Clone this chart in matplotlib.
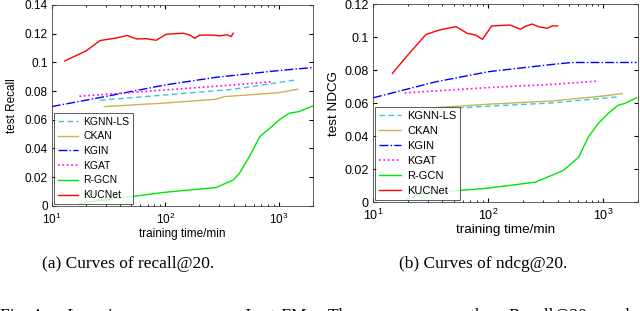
import matplotlib
matplotlib.use('Agg')
import matplotlib.pyplot as plt

# ---- data (training time in minutes) ----
# (a) Recall@20
rec_kucnet_t = [13, 20, 26.6, 37, 46, 56, 68, 83, 102, 144, 165, 182, 200, 263, 300, 350, 380, 396]
rec_kucnet_y = [0.101, 0.108, 0.1152, 0.117, 0.1187, 0.1163, 0.1165, 0.1154, 0.1196, 0.1203, 0.119, 0.1168, 0.119, 0.119, 0.1185, 0.1192, 0.118, 0.1203]
rec_kgin_t = [10, 26.6, 100, 280, 1000, 2000]
rec_kgin_y = [0.0692, 0.0755, 0.0843, 0.0896, 0.0943, 0.0964]
rec_kgat_t = [17.5, 100, 400, 890]
rec_kgat_y = [0.0764, 0.0808, 0.0843, 0.0866]
rec_kgnn_t = [26.6, 100, 400, 1420]
rec_kgnn_y = [0.0736, 0.0773, 0.0813, 0.0878]
rec_ckan_t = [29, 100, 280, 330, 1000, 1470]
rec_ckan_y = [0.0692, 0.0717, 0.0743, 0.0761, 0.0789, 0.0813]
rec_rgcn_t = [17.5, 100, 280, 396, 450, 550, 680, 830, 1010, 1230, 1500, 2000]
rec_rgcn_y = [0.0019, 0.0095, 0.0128, 0.018, 0.0227, 0.0343, 0.0483, 0.054, 0.060, 0.0645, 0.0657, 0.0697]

# (b) NDCG@20
nd_kucnet_t = [14.7, 19.4, 28.8, 37.7, 52.5, 66, 78, 89, 107, 155, 190, 210, 240, 275, 325, 360, 400]
nd_kucnet_y = [0.078, 0.088, 0.1016, 0.1043, 0.1063, 0.1022, 0.1012, 0.0986, 0.1067, 0.1073, 0.1047, 0.1065, 0.1079, 0.1062, 0.1053, 0.1068, 0.1067]
nd_kgin_t = [10, 35, 100, 357, 530, 1940]
nd_kgin_y = [0.0632, 0.0729, 0.079, 0.0834, 0.0846, 0.0846]
nd_kgat_t = [18.8, 100, 357, 880]
nd_kgat_y = [0.0662, 0.0694, 0.0713, 0.0733]
nd_ckan_t = [31.8, 100, 357, 970, 1460]
nd_ckan_y = [0.0571, 0.0593, 0.0613, 0.0642, 0.0658]
nd_kgnn_t = [31.8, 100, 357, 1350]
nd_kgnn_y = [0.0561, 0.0581, 0.0601, 0.0638]
nd_rgcn_t = [19.6, 25, 100, 256, 450, 610, 740, 900, 1100, 1340, 1520, 1940]
nd_rgcn_y = [0.0014, 0.005, 0.0085, 0.0121, 0.0192, 0.0273, 0.0395, 0.0476, 0.0537, 0.0587, 0.0597, 0.0632]

plt.rcParams['font.family'] = ['Liberation Sans', 'DejaVu Sans']

fig = plt.figure(figsize=(6.4, 3.11), dpi=100)
ax1 = fig.add_axes([0.081, 0.338, 0.408, 0.646])
ax2 = fig.add_axes([0.583, 0.350, 0.414, 0.637])

def draw(ax, data, ymax, ylabel, fs_tick, fs_lab, fs_leg, lpad):
    (kgnn, ckan, kgin, kgat, rgcn, kucnet) = data
    ax.semilogx(*kgnn, color='#3cc8d2', ls=(0, (4, 2.5)), lw=1.0, label='KGNN-LS')
    ax.semilogx(*ckan, color='#c8b450', ls='-', lw=1.0, label='CKAN')
    ax.semilogx(*kgin, color='#0000ff', ls='-.', lw=1.0, label='KGIN')
    ax.semilogx(*kgat, color='#ff00ff', ls=':', lw=1.2, label='KGAT')
    ax.semilogx(*rgcn, color='#00e600', ls='-', lw=1.0, label='R-GCN')
    ax.semilogx(*kucnet, color='#ff0000', ls='-', lw=1.0, label='KUCNet')
    ax.set_xlim(10, 2000)
    ax.set_ylim(0, ymax)
    ax.set_xlabel('training time/min', fontsize=fs_lab, labelpad=1)
    ax.set_ylabel(ylabel, fontsize=fs_lab, labelpad=lpad)
    ax.tick_params(which='both', direction='in', top=True, right=True, labelsize=fs_tick)
    ax.tick_params(axis='x', pad=4)
    ax.tick_params(axis='y', pad=3)
    ax.tick_params(which='major', length=3)
    ax.tick_params(which='minor', length=1.5)
    for s in ax.spines.values():
        s.set_linewidth(0.6)
        s.set_color('#444444')
    leg = ax.legend(loc='lower left', fontsize=fs_leg, handlelength=2.0, handletextpad=0.5,
                    labelspacing=0.45, borderpad=0.35, borderaxespad=0.2, fancybox=False)
    leg.get_frame().set_edgecolor('#333333')
    leg.get_frame().set_linewidth(0.7)

draw(ax1, [(rec_kgnn_t, rec_kgnn_y), (rec_ckan_t, rec_ckan_y), (rec_kgin_t, rec_kgin_y),
           (rec_kgat_t, rec_kgat_y), (rec_rgcn_t, rec_rgcn_y), (rec_kucnet_t, rec_kucnet_y)],
     0.14, 'test Recall', 8.5, 8.5, 7.5, 5)
ax1.set_yticks([0, 0.02, 0.04, 0.06, 0.08, 0.1, 0.12, 0.14])
ax1.set_yticklabels(['0', '0.02', '0.04', '0.06', '0.08', '0.1', '0.12', '0.14'])

draw(ax2, [(nd_kgnn_t, nd_kgnn_y), (nd_ckan_t, nd_ckan_y), (nd_kgin_t, nd_kgin_y),
           (nd_kgat_t, nd_kgat_y), (nd_rgcn_t, nd_rgcn_y), (nd_kucnet_t, nd_kucnet_y)],
     0.12, 'test NDCG', 9, 9.7, 8, 3)
ax2.set_yticks([0, 0.02, 0.04, 0.06, 0.08, 0.1, 0.12])
ax2.set_yticklabels(['0', '0.02', '0.04', '0.06', '0.08', '0.1', '0.12'])

serif = ['Liberation Serif', 'DejaVu Serif']
fig.text(0.2, 0.152, '(a) Curves of recall@20.', family=serif, fontsize=12.5, ha='center', va='center')
fig.text(0.755, 0.152, '(b) Curves of ndcg@20.', family=serif, fontsize=12.5, ha='center', va='center')
fig.text(0.0, -0.028,
         'Fig. 4:     Learning    curves    on    Last-FM.    The    curves    on    the    Recall@20    and',
         family=serif, fontsize=12.5, ha='left', va='baseline')

fig.savefig('out.png', dpi=100)
